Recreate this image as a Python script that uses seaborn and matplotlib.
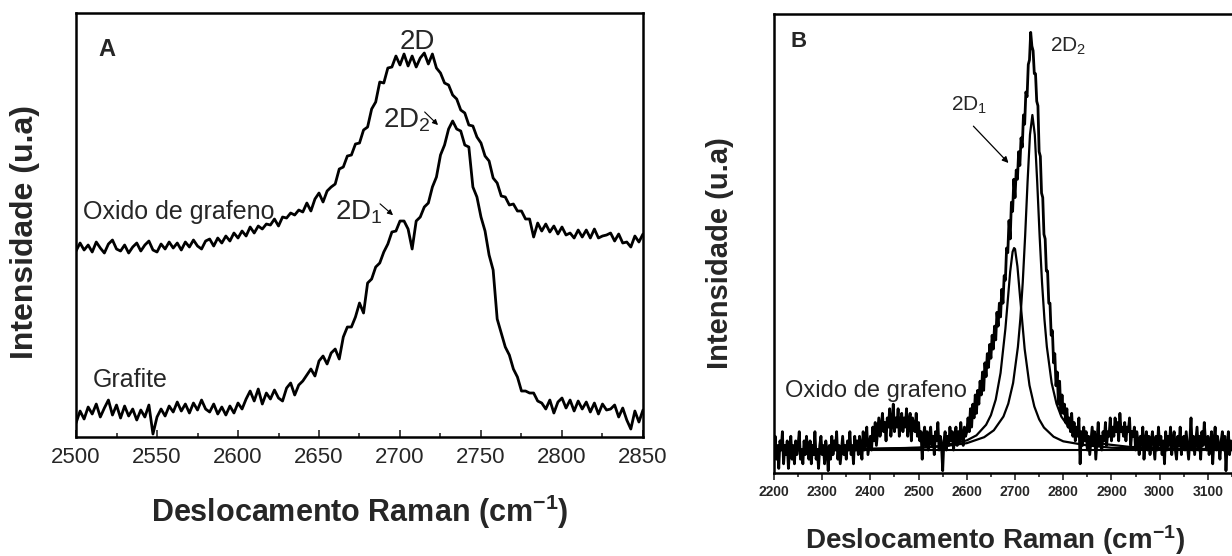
import numpy as np
import matplotlib
matplotlib.use("Agg")
import matplotlib.pyplot as plt
import seaborn as sns


# DATA - painel A (intensidade em unidades arbitrarias)
shift_a = np.arange(2500, 2850.1, 2.5)

oxido_a = [
    186, 194, 187, 192, 185, 195, 189, 184, 193, 197,
    188, 186, 192, 184, 190, 194, 186, 192, 196, 187,
    185, 193, 188, 195, 189, 194, 187, 195, 190, 197,
    191, 188, 196, 198, 191, 199, 194, 201, 196, 204,
    199, 206, 201, 210, 204, 211, 208, 213, 212, 218,
    211, 220, 219, 224, 222, 227, 225, 234, 226, 238,
    244, 235, 246, 250, 253, 268, 270, 281, 282, 293,
    294, 307, 310, 328, 335, 355, 354, 369, 370, 381,
    372, 383, 371, 381, 370, 379, 384, 373, 383, 369,
    364, 354, 352, 342, 338, 327, 324, 312, 311, 300,
    294, 281, 276, 259, 254, 241, 240, 232, 233, 226,
    226, 218, 218, 200, 214, 206, 213, 205, 211, 203,
    210, 202, 204, 199, 207, 200, 207, 199, 208, 199,
    201, 202, 204, 196, 203, 194, 195, 190, 201, 195,
    203,
]

grafite_a = [
    14, 26, 18, 30, 23, 33, 20, 29, 37, 22,
    32, 19, 31, 21, 28, 17, 27, 20, 32, 3,
    20, 28, 21, 31, 25, 35, 26, 33, 24, 34,
    27, 37, 28, 25, 33, 23, 30, 22, 31, 24,
    34, 28, 38, 46, 36, 48, 33, 44, 38, 47,
    39, 36, 49, 54, 42, 52, 56, 62, 68, 61,
    76, 81, 73, 84, 88, 78, 100, 110, 110, 120,
    134, 124, 154, 158, 170, 174, 185, 193, 205, 206,
    216, 216, 208, 188, 216, 220, 230, 234, 250, 260,
    282, 292, 308, 316, 308, 306, 292, 290, 250, 240,
    220, 206, 182, 167, 118, 104, 90, 82, 68, 60,
    46, 46, 44, 44, 36, 34, 28, 37, 24, 35,
    39, 29, 37, 26, 36, 28, 35, 25, 34, 23,
    33, 27, 28, 32, 20, 29, 17, 8, 26, 15,
    27,
]

# DATA - painel B
shift_b = np.arange(2200, 3150.1, 2.5)

oxido_b = [
    4, 8, 3, 6, 1, 7, 5, 9, 2, 6,
    4, 7, 1, 5, 8, 3, 6, 2, 7, 4,
    6, 9, 3, 5, 2, 7, 4, 8, 5, 3,
    7, 2, 6, 4, 9, 3, 5, 1, 6, 8,
    4, 6, 2, 7, 5, 0.5, 6, 3, 8, 4,
    7, 5, 9, 3, 6, 2, 5, 8, 4, 6,
    3, 7, 5, 9, 4, 6, 2, 8, 5, 7,
    4, 8, 6, 3, 9, 5, 7, 10, 4, 6,
    8, 5, 10, 7, 11, 6, 9, 12, 8, 10,
    13, 9, 11, 7, 12, 10, 14, 8, 11, 15,
    9, 12, 10, 14, 8, 11, 13, 9, 12, 10,
    14, 8, 11, 13, 7, 12, 10, 9, 13, 8,
    11, 7, 9, 3, 8, 10, 6, 9, 5, 8,
    10, 6, 8, 4, 9, 7, 11, 5, 8, 6,
    0.5, 7, 9, 5, 8, 6, 10, 7, 9, 5,
    8, 10, 6, 9, 7, 11, 8, 6, 10, 8,
    9, 12, 9, 14, 10, 15, 12, 17, 13, 18,
    15, 20, 17, 22, 18, 24, 21, 26, 23, 28,
    25, 30, 27, 32, 29, 35, 32, 37, 34, 40,
    37, 43, 42, 49, 48, 55, 51, 59, 57, 64,
    60, 66, 64, 70, 67, 73, 71, 78, 76, 83,
    82, 89, 90, 96, 93, 92, 87, 87, 81, 80,
    70, 69, 61, 60, 52, 51, 44, 44, 37, 37,
    30, 31, 24, 26, 19, 22, 15, 20, 13, 17,
    13, 15, 11, 14, 10, 12, 9, 13, 8, 11,
    7, 10, 8, 12, 2, 9, 6, 10, 7, 9,
    5, 8, 4, 7, 10, 6, 9, 3, 7, 11,
    6, 8, 5, 9, 7, 11, 6, 9, 8, 12,
    7, 10, 8, 12, 9, 11, 7, 13, 9, 10,
    8, 11, 7, 10, 9, 12, 6, 9, 8, 10,
    5, 9, 7, 4, 8, 6, 10, 3, 7, 9,
    5, 8, 4, 7, 9, 6, 3, 8, 5, 10,
    6, 8, 4, 7, 2, 9, 5, 8, 6, 10,
    4, 7, 9, 5, 3, 8, 6, 10, 4, 7,
    8, 5, 9, 6, 3, 7, 12, 5, 8, 4,
    7, 10, 5, 8, 3, 9, 6, 11, 7, 5,
    8, 4, 6, 9, 2, 7, 10, 5, 8, 6,
    3, 7, 9, 5, 8, 0.5, 6, 9, 4, 7,
    5,
]

# componentes ajustadas
shift_2d1 = [2200, 2400, 2500, 2550, 2600, 2620, 2640, 2650, 2660, 2670,
             2680, 2690, 2695, 2698, 2700, 2705, 2710, 2720, 2730, 2740,
             2750, 2760, 2780, 2800, 2850, 2900, 3000, 3150]
fit_2d1 = [5.1, 5.2, 5.5, 5.9, 7.1, 8.2, 10.5, 12.6, 16.0, 21.8,
           31.4, 43.9, 48.2, 49.0, 48.8, 45.0, 38.9, 27.0, 19.1, 14.5,
           11.7, 9.9, 7.9, 6.9, 6.0, 5.5, 5.2, 5.1]

shift_2d2 = [2200, 2400, 2500, 2550, 2600, 2636, 2656, 2676, 2686, 2696,
             2706, 2711, 2716, 2721, 2726, 2731, 2736, 2741, 2746, 2751,
             2756, 2761, 2766, 2776, 2786, 2796, 2816, 2836, 2886, 2936,
             3036, 3150]
fit_2d2 = [5.1, 5.3, 5.5, 5.8, 6.5, 7.8, 9.3, 12.3, 15.1, 19.6,
           27.5, 33.5, 41.5, 51.7, 63.4, 73.7, 78.0, 73.7, 63.4, 51.7,
           41.5, 33.5, 27.5, 19.6, 15.1, 12.3, 9.3, 7.8, 6.3, 5.7,
           5.3, 5.2]

shift_base = [2200, 3150]
fit_base = [5.0, 5.0]


# STYLE
sns.set_style("white")
plt.rcParams['font.family'] = ['Liberation Sans', 'DejaVu Sans']
plt.rcParams['mathtext.fontset'] = 'custom'
plt.rcParams['mathtext.rm'] = 'Liberation Sans'
plt.rcParams['mathtext.it'] = 'Liberation Sans'
plt.rcParams['mathtext.bf'] = 'Liberation Sans:bold'

fig = plt.figure(figsize=(12.32, 5.56), dpi=100)
ax_a = fig.add_axes([0.0617, 0.214, 0.4602, 0.7626])
ax_b = fig.add_axes([0.6282, 0.1493, 0.3718, 0.8255])


# PAINEL A
sns.lineplot(x=shift_a, y=oxido_a, ax=ax_a, color='black', linewidth=2)
sns.lineplot(x=shift_a, y=grafite_a, ax=ax_a, color='black', linewidth=2)

ax_a.set_xlim(2500, 2850)
ax_a.set_ylim(0, 424)
ax_a.set_xticks(np.arange(2500, 2851, 50))
ax_a.set_xticks(np.arange(2500, 2851, 25), minor=True)
ax_a.set_yticks([])
ax_a.tick_params(axis='x', which='both', direction='in', bottom=True,
                 labelsize=16, pad=7, width=1.2)
ax_a.tick_params(axis='x', which='major', length=5)
ax_a.tick_params(axis='x', which='minor', length=3)
for sp in ax_a.spines.values():
    sp.set_linewidth(1.8)
    sp.set_color('black')

ax_a.set_xlabel(r'Deslocamento Raman (cm$^{\mathbf{-1}}$)',
                fontsize=22, fontweight='bold', va='center')
ax_a.xaxis.set_label_coords(0.50, -0.177)
ax_a.set_ylabel('Intensidade (u.a)', fontsize=23, fontweight='bold', va='center')
ax_a.yaxis.set_label_coords(-0.09, 0.483)

ax_a.text(2519, 388, 'A', fontsize=17, fontweight='bold', ha='center', va='center')
ax_a.text(2710.5, 395, '2D', fontsize=20, ha='center', va='center')
ax_a.text(2689.5, 317, '2D$_2$', fontsize=20, ha='left', va='center')
ax_a.annotate('', xy=(2724.7, 310), xytext=(2714, 327),
              arrowprops=dict(arrowstyle='-|>', color='black', lw=0.8,
                              mutation_scale=8))
ax_a.text(2660, 225, '2D$_1$', fontsize=20, ha='left', va='center')
ax_a.annotate('', xy=(2697, 220), xytext=(2686.4, 235),
              arrowprops=dict(arrowstyle='-|>', color='black', lw=0.8,
                              mutation_scale=8))
ax_a.text(2504.3, 225, 'Oxido de grafeno', fontsize=18, ha='left', va='center')
ax_a.text(2510.5, 57, 'Grafite', fontsize=18, ha='left', va='center')


# PAINEL B
sns.lineplot(x=shift_base, y=fit_base, ax=ax_b, color='black', linewidth=1.5)
sns.lineplot(x=shift_2d1, y=fit_2d1, ax=ax_b, color='black', linewidth=1.6)
sns.lineplot(x=shift_b, y=oxido_b, ax=ax_b, color='black', linewidth=2.0)
sns.lineplot(x=shift_2d2, y=fit_2d2, ax=ax_b, color='black', linewidth=1.6)

ax_b.set_xlim(2200, 3150)
ax_b.set_ylim(0, 100)
ax_b.set_xticks(np.arange(2200, 3101, 100))
ax_b.set_xticks(np.arange(2200, 3151, 50), minor=True)
ax_b.set_yticks([])
ax_b.tick_params(axis='x', which='both', direction='out', bottom=True,
                 labelsize=10, pad=4, width=1.2)
ax_b.tick_params(axis='x', which='major', length=5)
ax_b.tick_params(axis='x', which='minor', length=3)
for lab in ax_b.get_xticklabels():
    lab.set_fontweight('bold')
for sp in ax_b.spines.values():
    sp.set_linewidth(1.8)
    sp.set_color('black')
ax_b.spines['right'].set_visible(False)

ax_b.set_xlabel(r'Deslocamento Raman (cm$^{\mathbf{-1}}$)',
                fontsize=20, fontweight='bold', va='center')
ax_b.xaxis.set_label_coords(0.4825, -0.146)
ax_b.set_ylabel('Intensidade (u.a)', fontsize=21, fontweight='bold', va='center')
ax_b.yaxis.set_label_coords(-0.118, 0.479)

ax_b.text(2251.7, 94.1, 'B', fontsize=16, fontweight='bold', ha='center', va='center')
ax_b.text(2773, 93, '2D$_2$', fontsize=15, ha='left', va='center')
ax_b.text(2568, 80, '2D$_1$', fontsize=15, ha='left', va='center')
ax_b.annotate('', xy=(2690.4, 67.1), xytext=(2609.7, 76),
              arrowprops=dict(arrowstyle='-|>', color='black', lw=0.9,
                              mutation_scale=9))
ax_b.text(2222.8, 17.9, 'Oxido de grafeno', fontsize=17, ha='left', va='center')


plt.savefig("out.png", dpi=100)
